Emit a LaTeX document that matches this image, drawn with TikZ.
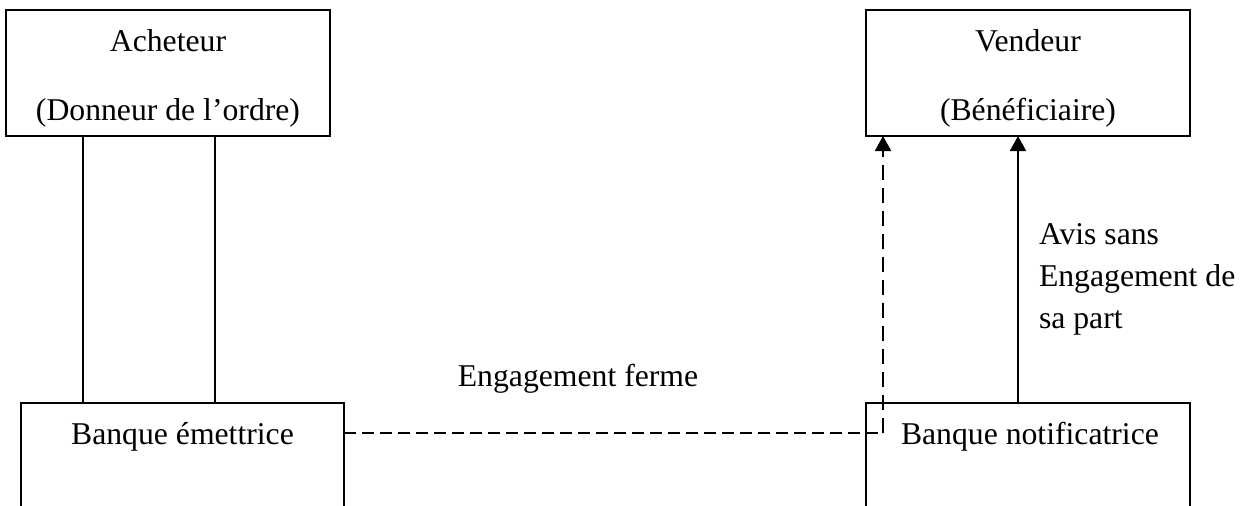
\documentclass[tikz,border=0pt]{standalone}
\usepackage{fontspec}
\setmainfont{Liberation Serif}
\usetikzlibrary{arrows.meta}
\begin{document}
\begin{tikzpicture}[x=1pt,y=-1pt, line width=2pt,
  box/.style={draw, rectangle, inner sep=0pt, outer sep=0pt, anchor=north west, minimum width=324pt},
  txt/.style={inner sep=0pt, anchor=base, font=\fontsize{31.7}{42}\selectfont},
  tip/.style={-{Triangle[length=15pt,width=16pt]}},
  hdash/.style={dash pattern=on 12pt off 6pt},
  vdash/.style={dash pattern=on 15pt off 8pt}]
\clip (0,0) rectangle (1245,506);
% boxes
\node[box, minimum height=126pt] (ach) at (6,10) {};
\node[box, minimum height=126pt] (vend) at (866,10) {};
\node[box, minimum width=323pt, minimum height=150pt] (bem) at (21,403) {};
\node[box, minimum height=150pt] (bnot) at (866,403) {};
% texts
\node[txt] (achT) at (168,51) {Acheteur};
\node[txt] (achS) at (168,120) {(Donneur de l’ordre)};
\node[txt] (venT) at (1028,51) {Vendeur};
\node[txt] (venS) at (1028,120) {(Bénéficiaire)};
\node[txt] (bemT) at (182.5,444) {Banque émettrice};
\node[txt, anchor=base west] (bnotT) at (900,444) {Banque notificatrice};
\node[txt] (eng) at (578,386) {Engagement ferme};
\node[txt, anchor=base west] (avis1) at (1038,244) {Avis sans};
\node[txt, anchor=base west] (avis2) at (1038,286) {Engagement de};
\node[txt, anchor=base west] (avis3) at (1038,328) {sa part};
% helper coordinates
\coordinate (l1) at (83,0);
\coordinate (l2) at (215,0);
\coordinate (dv) at (883,433);
\coordinate (sv) at (1018,0);
% connectors
\draw (ach.south -| l1) -- (bem.north -| l1);
\draw (ach.south -| l2) -- (bem.north -| l2);
\draw[hdash] (bem.east |- dv) -- (dv);
\draw[vdash, tip] (dv) -- (vend.south -| dv);
\draw[tip] (bnot.north -| sv) -- (vend.south -| sv);
\end{tikzpicture}
\end{document}
